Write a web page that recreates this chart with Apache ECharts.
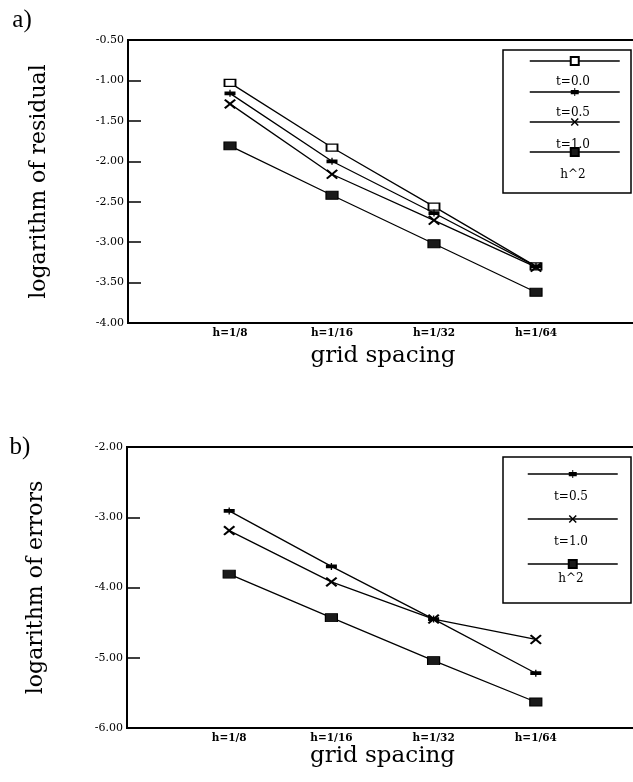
<!DOCTYPE html>
<html><head><meta charset="utf-8">
<script src="https://cdn.jsdelivr.net/npm/echarts@6/dist/echarts.min.js"></script>
<style>html,body{margin:0;padding:0;background:#fff}#c{width:633px;height:782px}</style>
</head><body><div id="c"></div>
<script>
// ---- data ----
const xLabels = ['h=1/8', 'h=1/16', 'h=1/32', 'h=1/64'];
const xPos = [1, 2, 3, 4];
// a) logarithm of residual
const resT00 = [-1.03, -1.83, -2.56, -3.30];
const resT05 = [-1.16, -2.00, -2.64, -3.30];
const resT10 = [-1.29, -2.16, -2.73, -3.31];
const resH2  = [-1.81, -2.42, -3.02, -3.62];
// b) logarithm of errors
const errT05 = [-2.91, -3.70, -4.45, -5.22];
const errT10 = [-3.19, -3.92, -4.45, -4.74];
const errH2  = [-3.81, -4.43, -5.04, -5.63];
const legendTop = ['t=0.0', 't=0.5', 't=1.0', 'h^2'];
const legendBottom = ['t=0.5', 't=1.0', 'h^2'];

// ---- styles ----
const SERIF = "'DejaVu Serif', 'Liberation Serif', serif";
const symbols = {
  't=0.0': { symbol: 'rect', symbolSize: [11, 7], itemStyle: { color: '#fff', borderColor: '#000', borderWidth: 1.5 } },
  't=0.5': { symbol: 'path://M0,3.3H4.4V1.8H5.6V3.3H10V6.7H5.6V8.2H4.4V6.7H0Z', symbolSize: [11, 7], itemStyle: { color: '#000', borderWidth: 0 } },
  't=1.0': { symbol: 'path://M0,1.3L1.3,0L5,3.7L8.7,0L10,1.3L6.3,5L10,8.7L8.7,10L5,6.3L1.3,10L0,8.7L3.7,5Z', symbolSize: [12, 10], itemStyle: { color: '#000', borderWidth: 0 } },
  'h^2':   { symbol: 'rect', symbolSize: [12, 8], itemStyle: { color: '#1a1a1a', borderColor: '#000', borderWidth: 1 } }
};
function mk(name, vals, idx) {
  const s = symbols[name];
  return {
    type: 'line', name: name, xAxisIndex: idx, yAxisIndex: idx,
    data: xPos.map((x, i) => [x, vals[i]]),
    symbol: s.symbol, symbolSize: s.symbolSize, itemStyle: s.itemStyle,
    showAllSymbol: true, animation: false, silent: true,
    lineStyle: { color: '#000', width: 1.3 }
  };
}
function xAxisOpt(idx, gap) {
  return {
    type: 'value', gridIndex: idx, min: 0, max: 5, interval: 1,
    axisLine: { show: true, lineStyle: { color: '#000', width: 2 } },
    axisTick: { show: false }, splitLine: { show: false },
    axisLabel: { color: '#000', fontFamily: SERIF, fontSize: 10.5, fontWeight: 'bold', margin: 5,
      formatter: v => (v >= 1 && v <= 4) ? xLabels[v - 1] : '' },
    name: 'grid spacing', nameLocation: 'middle', nameGap: gap,
    nameTextStyle: { color: '#000', fontFamily: SERIF, fontSize: 23 }
  };
}
function yAxisOpt(idx, min, max, interval, name, gap) {
  return {
    type: 'value', gridIndex: idx, min: min, max: max, interval: interval,
    axisLine: { show: true, lineStyle: { color: '#000', width: 2 } },
    axisTick: { show: true, inside: true, length: 13, lineStyle: { color: '#000', width: 1.5 } },
    splitLine: { show: false },
    axisLabel: { color: '#000', fontFamily: SERIF, fontSize: 11, margin: 4,
      formatter: v => v.toFixed(2) },
    name: name, nameLocation: 'middle', nameGap: gap, nameRotate: 90,
    nameTextStyle: { color: '#000', fontFamily: SERIF, fontSize: 22 }
  };
}
function legendOpt(names, left, top, gap) {
  return {
    data: names, orient: 'vertical', left: left, top: top, padding: 0,
    itemWidth: 90, itemHeight: 10, itemGap: gap, selectedMode: false,
    formatter: () => '', textStyle: { fontSize: 1 },
    lineStyle: { width: 1.5 }
  };
}

const chart = echarts.init(document.getElementById('c'), null, { renderer: 'canvas' });
chart.setOption({
  animation: false,
  backgroundColor: '#fff',
  grid: [
    { left: 128, top: 40, width: 510, height: 283, show: true, borderColor: '#000', borderWidth: 2, backgroundColor: 'transparent', outerBoundsMode: 'none', containLabel: false },
    { left: 127, top: 447, width: 511, height: 281, show: true, borderColor: '#000', borderWidth: 2, backgroundColor: 'transparent', outerBoundsMode: 'none', containLabel: false }
  ],
  xAxis: [xAxisOpt(0, 22), xAxisOpt(1, 11)],
  yAxis: [
    yAxisOpt(0, -4, -0.5, 0.5, 'logarithm of residual', 78),
    yAxisOpt(1, -6, -2, 1, 'logarithm of errors', 80)
  ],
  legend: [legendOpt(legendTop, 529, 56, 21), legendOpt(legendBottom, 527, 469, 36)],
  series: [
    mk('t=0.0', resT00, 0), mk('t=0.5', resT05, 0), mk('t=1.0', resT10, 0), mk('h^2', resH2, 0),
    mk('t=0.5', errT05, 1), mk('t=1.0', errT10, 1), mk('h^2', errH2, 1)
  ],
  graphic: [
    { type: 'rect', shape: { x: 503, y: 50, width: 128, height: 143 }, style: { fill: 'none', stroke: '#000', lineWidth: 1.5 }, z: 1 },
    { type: 'rect', shape: { x: 503, y: 457, width: 128, height: 146 }, style: { fill: 'none', stroke: '#000', lineWidth: 1.5 }, z: 1 },
    { type: 'text', x: 22, y: 20, style: { text: 'a)', fill: '#000', font: "25px 'Liberation Serif', serif", align: 'center', verticalAlign: 'middle' } },
    { type: 'text', x: 20, y: 447, style: { text: 'b)', fill: '#000', font: "25px 'Liberation Serif', serif", align: 'center', verticalAlign: 'middle' } },
    ...legendTop.map((n, i) => ({ type: 'text', x: 573, y: [82, 113, 145, 175][i],
      style: { text: n, fill: '#000', font: '12px ' + SERIF, align: 'center', verticalAlign: 'middle' } })),
    ...legendBottom.map((n, i) => ({ type: 'text', x: 571, y: [497, 542, 579][i],
      style: { text: n, fill: '#000', font: '12px ' + SERIF, align: 'center', verticalAlign: 'middle' } }))
  ]
});
</script></body></html>
